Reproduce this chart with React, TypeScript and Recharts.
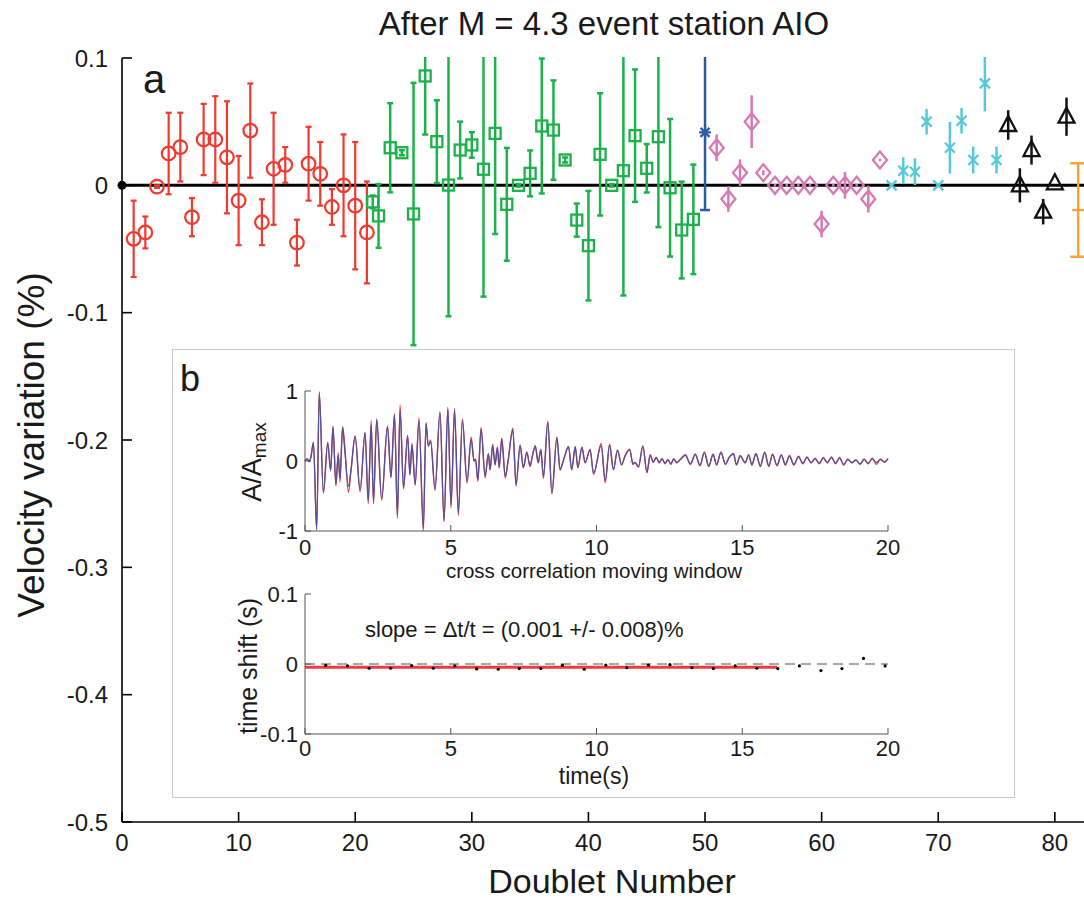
import React from 'react';
import {
  ComposedChart, Scatter, XAxis, YAxis, ErrorBar, ReferenceLine, ReferenceDot, Line,
} from 'recharts';

const FONT = '"Liberation Sans", Arial, Helvetica, sans-serif';

// ---------- Panel a ----------
const xTicks = [0, 10, 20, 30, 40, 50, 60, 70, 80];
const yTicks = [-0.5, -0.4, -0.3, -0.2, -0.1, 0, 0.1];

const redDoublets = [1, 2, 3, 4, 5, 6, 7, 8, 9, 10, 11, 12, 13, 14, 15, 16, 17, 18, 19, 20, 21];
const redValues = [-0.042, -0.037, -0.001, 0.025, 0.030, -0.025, 0.036, 0.036, 0.022, -0.012, 0.043, -0.029, 0.013, 0.016, -0.045, 0.017, 0.009, -0.017, 0.000, -0.016, -0.037];
const redErrors = [0.030, 0.0125, 0.001, 0.032, 0.027, 0.015, 0.028, 0.034, 0.044, 0.035, 0.037, 0.018, 0.044, 0.014, 0.018, 0.029, 0.025, 0.014, 0.040, 0.050, 0.040];

const greenDoublets = [21.5, 22, 23, 24, 25, 26, 27, 28, 29, 30, 31, 32, 33, 34, 35, 36, 37, 38, 39, 40, 41, 42, 43, 44, 45, 46, 47, 48, 49];
const greenValues = [-0.013, -0.024, 0.0295, 0.0256, -0.0225, 0.0859, 0.0343, 0.0002, 0.0277, 0.0317, 0.0126, 0.0408, -0.0149, 0.000, 0.0094, 0.0466, 0.0434, 0.0199, -0.0273, -0.0474, 0.0243, 0.000, 0.0115, 0.039, 0.0134, 0.0382, -0.0019, -0.0351, -0.0267];
const greenErrors = [0.005, 0.025, 0.035, 0.002, 0.103, 0.046, 0.0325, 0.103, 0.0223, 0.010, 0.100, 0.079, 0.0443, 0.001, 0.018, 0.053, 0.039, 0.002, 0.013, 0.043, 0.048, 0.001, 0.098, 0.052, 0.019, 0.071, 0.054, 0.038, 0.043];

const blueDoublets = [50];
const blueValues = [0.0416];
const blueErrors = [0.061];

const pinkDoublets = [51, 52, 53, 54, 55, 56, 57, 58, 59, 60, 61, 62, 63, 64, 65];
const pinkValues = [0.0295, -0.0108, 0.0099, 0.050, 0.0099, 0, 0, 0, 0, -0.0304, 0, 0, 0, -0.0108, 0.0199];
const pinkErrors = [0.0105, 0.010, 0.0105, 0.0207, 0.002, 0.001, 0.001, 0.001, 0.001, 0.0105, 0.001, 0.0105, 0.001, 0.0105, 0.001];

const cyanDoublets = [66, 67, 68, 69, 70, 71, 72, 73, 74, 75];
const cyanValues = [0, 0.0115, 0.0107, 0.050, 0, 0.0295, 0.0507, 0.0199, 0.0801, 0.0199];
const cyanErrors = [0, 0.0105, 0.0105, 0.010, 0, 0.0203, 0.010, 0.0105, 0.022, 0.0105];

const blackDoublets = [76, 77, 78, 79, 80, 81];
const blackValues = [0.0474, 0, 0.0277, -0.0207, 0.0016, 0.0539];
const blackErrors = [0.0116, 0.0134, 0.0114, 0.010, 0, 0.015];

const orangeDoublets = [82];
const orangeValues = [-0.0194];
const orangeErrors = [0.0367];

// ---------- Panel b (waveforms) ----------
const waveTimes = [0, 0.08, 0.14, 0.20, 0.29, 0.40, 0.49, 0.63, 0.78, 0.88, 0.96, 1.06, 1.14, 1.20, 1.29, 1.36, 1.49, 1.58, 1.72, 1.89, 2.06, 2.17, 2.27, 2.35, 2.46, 2.63, 2.83, 2.95, 3.07, 3.17, 3.26, 3.38, 3.52, 3.60, 3.67, 3.78, 3.91, 4.06, 4.15, 4.23, 4.31, 4.46, 4.63, 4.77, 4.90, 5.01, 5.13, 5.26, 5.40, 5.56, 5.70, 5.80, 5.85, 5.93, 6.04, 6.18, 6.29, 6.35, 6.44, 6.52, 6.60, 6.66, 6.75, 6.87, 6.96, 7.13, 7.24, 7.38, 7.49, 7.61, 7.72, 7.80, 7.90, 8.00, 8.09, 8.18, 8.33, 8.47, 8.64, 8.75, 8.86, 9.04, 9.15, 9.27, 9.36, 9.50, 9.61, 9.78, 9.90, 10.16, 10.30, 10.45, 10.58, 10.72, 10.86, 10.98, 11.14, 11.25, 11.32, 11.44, 11.59, 11.73, 11.84, 11.95, 12.05, 12.15, 12.25, 12.35, 12.45, 12.55, 12.65, 12.75, 12.85, 13.05, 13.22, 13.39, 13.55, 13.70, 13.85, 14.00, 14.12, 14.27, 14.42, 14.55, 14.70, 14.80, 14.93, 15.10, 15.22, 15.33, 15.47, 15.62, 15.77, 15.91, 16.04, 16.19, 16.34, 16.48, 16.62, 16.77, 16.93, 17.08, 17.22, 17.36, 17.50, 17.64, 17.78, 17.92, 18.06, 18.20, 18.34, 18.48, 18.62, 18.76, 18.90, 19.04, 19.18, 19.32, 19.46, 19.60, 19.74, 19.88, 20.00];
const waveBlue = [0.00, 0.03, -0.01, 0.05, 0.26, -0.98, 0.97, -0.45, 0.26, -0.13, 0.48, -0.33, 0.08, -0.25, 0.48, 0.18, -0.36, -0.12, 0.35, -0.42, 0.40, -0.57, 0.52, -0.57, 0.59, -0.54, 0.49, -0.23, 0.66, -0.78, 0.72, -0.38, 0.35, -0.19, 0.23, -0.33, 0.58, -0.96, 0.53, 0.21, 0.28, -0.40, 0.69, -0.85, 0.74, -0.63, 0.72, -0.73, 0.58, -0.29, 0.31, 0.00, 0.02, -0.27, 0.45, -0.21, 0.10, -0.12, 0.22, -0.05, 0.19, -0.09, 0.31, -0.22, -0.02, 0.44, -0.33, 0.22, -0.09, 0.12, -0.07, 0.07, 0.21, -0.02, 0.16, -0.22, 0.55, -0.46, 0.33, -0.12, 0.00, 0.20, -0.12, 0.20, -0.09, 0.19, -0.02, 0.16, -0.18, 0.22, -0.28, 0.23, -0.12, 0.15, -0.05, 0.07, 0.16, -0.04, -0.02, -0.08, 0.21, -0.16, 0.08, -0.01, 0.05, -0.02, 0.03, -0.03, 0.02, -0.04, 0.03, -0.02, 0.01, 0.08, -0.04, 0.09, -0.06, 0.12, -0.07, 0.09, -0.05, 0.12, -0.04, 0.05, 0.10, -0.05, 0.07, -0.02, 0.08, -0.05, 0.10, -0.07, 0.12, -0.07, 0.09, -0.06, 0.08, -0.05, 0.07, -0.05, 0.06, -0.03, 0.05, -0.02, 0.03, -0.03, 0.04, -0.02, 0.05, -0.03, 0.04, -0.05, 0.02, -0.02, 0.01, -0.04, 0.02, -0.03, 0.03, -0.02, 0.02, -0.01, 0.03];
const waveRed = [0.00, 0.03, -0.01, 0.05, 0.27, -0.98, 0.99, -0.46, 0.27, -0.14, 0.50, -0.36, 0.12, -0.30, 0.49, 0.23, -0.45, -0.13, 0.36, -0.44, 0.41, -0.61, 0.58, -0.61, 0.60, -0.56, 0.50, -0.24, 0.68, -0.82, 0.80, -0.40, 0.37, -0.20, 0.25, -0.35, 0.62, -1.00, 0.55, 0.22, 0.30, -0.42, 0.70, -0.87, 0.77, -0.67, 0.75, -0.78, 0.60, -0.32, 0.34, 0.00, 0.03, -0.29, 0.48, -0.24, 0.11, -0.13, 0.24, -0.06, 0.20, -0.10, 0.33, -0.24, -0.02, 0.47, -0.36, 0.23, -0.10, 0.13, -0.08, 0.07, 0.22, -0.03, 0.17, -0.25, 0.57, -0.47, 0.34, -0.13, 0.00, 0.21, -0.13, 0.21, -0.10, 0.20, -0.03, 0.17, -0.19, 0.25, -0.31, 0.24, -0.13, 0.16, -0.06, 0.08, 0.17, -0.05, -0.02, -0.09, 0.22, -0.17, 0.09, -0.02, 0.05, -0.03, 0.03, -0.04, 0.02, -0.05, 0.03, -0.03, 0.01, 0.09, -0.05, 0.10, -0.07, 0.13, -0.08, 0.10, -0.06, 0.13, -0.05, 0.05, 0.11, -0.06, 0.08, -0.03, 0.09, -0.06, 0.11, -0.08, 0.13, -0.08, 0.10, -0.07, 0.09, -0.06, 0.08, -0.06, 0.07, -0.04, 0.06, -0.03, 0.04, -0.04, 0.05, -0.03, 0.06, -0.04, 0.05, -0.06, 0.03, -0.03, 0.02, -0.05, 0.03, -0.04, 0.04, -0.05, 0.03, -0.02, 0.04];
const waveTicksX = [0, 5, 10, 15, 20];
const waveTicksY = [-1, 0, 1];

// ---------- Panel b (time shift) ----------
const shiftTimes = [0.71, 1.46, 2.20, 2.94, 3.66, 4.40, 5.14, 5.89, 6.63, 7.35, 8.09, 8.83, 9.58, 10.32, 11.04, 11.78, 12.52, 13.27, 14.01, 14.76, 15.50, 16.22, 16.96, 17.70, 18.42, 19.16, 19.90];
const shiftValues = [-0.0019, -0.0028, -0.0061, -0.0061, -0.0024, -0.0061, -0.0028, -0.0070, -0.0075, -0.0066, -0.0066, -0.0019, -0.0075, -0.0014, -0.0052, -0.0014, -0.0009, -0.0052, -0.0066, -0.0028, -0.0061, -0.0066, -0.0028, -0.0094, -0.0066, 0.0080, -0.0028];
const fitTimes = [0, 16.2];
const fitValues = [-0.0047, -0.0046];
const shiftTicksY = [-0.1, 0, 0.1];

// ---------- colours ----------
const RED = '#f0392f';
const GREEN = '#1cb24b';
const BLUE = '#2b5aa8';
const PINK = '#d879b4';
const CYAN = '#55c9d5';
const BLACK = '#111111';
const ORANGE = '#f7a43a';

const pts = (xs: number[], ys: number[], es: number[]) => xs.map((x, i) => ({ x, y: ys[i], e: es[i] }));
const redPts = pts(redDoublets, redValues, redErrors);
const greenPts = pts(greenDoublets, greenValues, greenErrors);
const bluePts = pts(blueDoublets, blueValues, blueErrors);
const pinkPts = pts(pinkDoublets, pinkValues, pinkErrors);
const cyanPts = pts(cyanDoublets, cyanValues, cyanErrors);
const blackPts = pts(blackDoublets, blackValues, blackErrors);
const orangePts = pts(orangeDoublets, orangeValues, orangeErrors);

const waveData = waveTimes.map((t, i) => ({ t, bl: waveBlue[i], rd: waveRed[i] }));
const shiftPts = shiftTimes.map((t, i) => ({ t, s: shiftValues[i] }));
const fitPts = fitTimes.map((t, i) => ({ t, s: fitValues[i] }));

// ---------- marker shapes ----------
const CircleShape = (p: any) => <circle cx={p.cx} cy={p.cy} r={6.8} fill="none" stroke={RED} strokeWidth={2.2} />;
const SquareShape = (p: any) => <rect x={p.cx - 5.5} y={p.cy - 5.5} width={11} height={11} fill="none" stroke={GREEN} strokeWidth={2.3} />;
const StarShape = (p: any) => (
  <g stroke={BLUE} strokeWidth={2.2}>
    <line x1={p.cx - 6} y1={p.cy} x2={p.cx + 6} y2={p.cy} />
    <line x1={p.cx} y1={p.cy - 6} x2={p.cx} y2={p.cy + 6} />
    <line x1={p.cx - 4.5} y1={p.cy - 4.5} x2={p.cx + 4.5} y2={p.cy + 4.5} />
    <line x1={p.cx - 4.5} y1={p.cy + 4.5} x2={p.cx + 4.5} y2={p.cy - 4.5} />
  </g>
);
const DiamondShape = (p: any) => (
  <path d={`M${p.cx},${p.cy - 8.5} L${p.cx + 7},${p.cy} L${p.cx},${p.cy + 8.5} L${p.cx - 7},${p.cy} Z`} fill="none" stroke={PINK} strokeWidth={2.3} />
);
const XShape = (p: any) => (
  <g stroke={CYAN} strokeWidth={2.3}>
    <line x1={p.cx - 5} y1={p.cy - 5} x2={p.cx + 5} y2={p.cy + 5} />
    <line x1={p.cx - 5} y1={p.cy + 5} x2={p.cx + 5} y2={p.cy - 5} />
  </g>
);
const TriangleShape = (p: any) => (
  <path d={`M${p.cx},${p.cy - 9} L${p.cx + 8},${p.cy + 6} L${p.cx - 8},${p.cy + 6} Z`} fill="none" stroke={BLACK} strokeWidth={2.3} />
);
const TickShape = (p: any) => <line x1={p.cx - 6} y1={p.cy} x2={p.cx + 6} y2={p.cy} stroke={ORANGE} strokeWidth={2.3} />;
const DotShape = (p: any) => <circle cx={p.cx} cy={p.cy} r={1.6} fill="#000" />;

const NoTick = () => <g />;
const tickStyle = { fill: '#1a1a1a', fontSize: 24, fontFamily: FONT };
const insetTick = { fill: '#1a1a1a', fontSize: 22, fontFamily: FONT };

export default function App() {
  return (
    <div style={{ position: 'absolute', left: 0, top: 0, width: 1084, height: 901, background: '#fff', overflow: 'hidden', fontFamily: FONT }}>
      {/* main panel a */}
      <div style={{ position: 'absolute', left: 0, top: 0 }}>
        <ComposedChart width={1084} height={901} margin={{ top: 58, right: 0, bottom: 0, left: 62 }}>
          <XAxis xAxisId="b" dataKey="x" type="number" domain={[0, 82.5]} ticks={xTicks} allowDataOverflow interval={0}
            height={79} tickSize={-10} tickMargin={22} stroke="#000" strokeWidth={1.6} tick={tickStyle} />
          <YAxis dataKey="y" type="number" domain={[-0.5, 0.1]} ticks={yTicks} allowDataOverflow interval={0}
            width={60} tickSize={-10} tickMargin={24} stroke="#000" strokeWidth={1.6} tick={tickStyle} />
          <ReferenceLine xAxisId="b" y={0} stroke="#000" strokeWidth={3} />
          <Scatter xAxisId="b" data={redPts} shape={CircleShape} isAnimationActive={false}>
            <ErrorBar dataKey="e" direction="y" width={3} stroke={RED} strokeWidth={2.2} isAnimationActive={false} />
          </Scatter>
          <Scatter xAxisId="b" data={greenPts} shape={SquareShape} isAnimationActive={false}>
            <ErrorBar dataKey="e" direction="y" width={3} stroke={GREEN} strokeWidth={2.5} isAnimationActive={false} />
          </Scatter>
          <Scatter xAxisId="b" data={bluePts} shape={StarShape} isAnimationActive={false}>
            <ErrorBar dataKey="e" direction="y" width={5} stroke={BLUE} strokeWidth={2.5} isAnimationActive={false} />
          </Scatter>
          <Scatter xAxisId="b" data={pinkPts} shape={DiamondShape} isAnimationActive={false}>
            <ErrorBar dataKey="e" direction="y" width={0} stroke={PINK} strokeWidth={2.5} isAnimationActive={false} />
          </Scatter>
          <Scatter xAxisId="b" data={cyanPts} shape={XShape} isAnimationActive={false}>
            <ErrorBar dataKey="e" direction="y" width={0} stroke={CYAN} strokeWidth={2.5} isAnimationActive={false} />
          </Scatter>
          <Scatter xAxisId="b" data={blackPts} shape={TriangleShape} isAnimationActive={false}>
            <ErrorBar dataKey="e" direction="y" width={0} stroke={BLACK} strokeWidth={2.5} isAnimationActive={false} />
          </Scatter>
          <Scatter xAxisId="b" data={orangePts} shape={TickShape} isAnimationActive={false}>
            <ErrorBar dataKey="e" direction="y" width={8} stroke={ORANGE} strokeWidth={2.5} isAnimationActive={false} />
          </Scatter>
          <ReferenceDot xAxisId="b" x={0} y={0} r={4.5} fill="#000" stroke="none" ifOverflow="visible" />
        </ComposedChart>
      </div>

      {/* mask for error bars running past the top frame (plot columns only), then the top frame axis */}
      <div style={{ position: 'absolute', left: 124, top: 0, width: 960, height: 57, background: '#fff' }} />
      <div style={{ position: 'absolute', left: 0, top: 0 }}>
        <ComposedChart width={1084} height={901} margin={{ top: 58, right: 0, bottom: 0, left: 62 }}>
          <XAxis xAxisId="t" orientation="top" dataKey="x" type="number" domain={[0, 82.5]} ticks={xTicks} allowDataOverflow interval={0}
            height={0} tickSize={-10} stroke="#000" strokeWidth={1.6} tick={NoTick} />
          <XAxis xAxisId="b" dataKey="x" type="number" domain={[0, 82.5]} ticks={xTicks} height={79} hide />
          <YAxis dataKey="y" type="number" domain={[-0.5, 0.1]} ticks={yTicks} width={60} hide />
          <Scatter xAxisId="t" data={[]} isAnimationActive={false} />
        </ComposedChart>
      </div>

      {/* inset frame */}
      <div style={{ position: 'absolute', left: 172, top: 349, width: 843, height: 449, boxSizing: 'border-box', border: '1.5px solid #cbcbcb', background: '#fff' }} />

      {/* inset: waveform */}
      <div style={{ position: 'absolute', left: 172, top: 349 }}>
        <ComposedChart width={843} height={232} data={waveData} margin={{ top: 42, right: 127, bottom: 0, left: 73 }}>
          <XAxis xAxisId="b" dataKey="t" type="number" domain={[0, 20]} ticks={waveTicksX} interval={0}
            height={50} tickSize={-6} tickMargin={14} stroke="#555" tick={insetTick} />
          <XAxis xAxisId="t" orientation="top" dataKey="t" type="number" domain={[0, 20]} ticks={waveTicksX} interval={0}
            height={0} tickSize={-6} stroke="#555" tick={NoTick} />
          <YAxis yAxisId="l" type="number" domain={[-1, 1]} ticks={waveTicksY} interval={0} allowDataOverflow
            width={60} tickSize={-6} tickMargin={13} stroke="#555" tick={insetTick} />
          <YAxis yAxisId="r" orientation="right" type="number" domain={[-1, 1]} ticks={waveTicksY} interval={0} allowDataOverflow
            width={0} tickSize={-6} stroke="#555" tick={NoTick} />
          <Line xAxisId="b" yAxisId="l" dataKey="rd" type="monotone" stroke="#ec3a3c" strokeWidth={1.3} dot={false} isAnimationActive={false} />
          <Line xAxisId="b" yAxisId="l" dataKey="bl" type="monotone" stroke="#4f519c" strokeWidth={1.3} dot={false} isAnimationActive={false} />
        </ComposedChart>
      </div>

      {/* inset: time shift */}
      <div style={{ position: 'absolute', left: 172, top: 580 }}>
        <ComposedChart width={843} height={210} margin={{ top: 14, right: 127, bottom: 0, left: 73 }}>
          <XAxis xAxisId="b" dataKey="t" type="number" domain={[0, 20]} ticks={waveTicksX} interval={0}
            height={56} tickSize={-6} tickMargin={12} stroke="#555" tick={insetTick} />
          <XAxis xAxisId="t" orientation="top" dataKey="t" type="number" domain={[0, 20]} ticks={waveTicksX} interval={0}
            height={0} tickSize={-6} stroke="#555" tick={NoTick} />
          <YAxis yAxisId="l" dataKey="s" type="number" domain={[-0.1, 0.1]} ticks={shiftTicksY} interval={0} allowDataOverflow
            width={60} tickSize={-6} tickMargin={13} stroke="#555" tick={insetTick} />
          <YAxis yAxisId="r" orientation="right" dataKey="s" type="number" domain={[-0.1, 0.1]} ticks={shiftTicksY} interval={0} allowDataOverflow
            width={0} tickSize={-6} stroke="#555" tick={NoTick} />
          <ReferenceLine xAxisId="b" yAxisId="l" y={0} stroke="#8a8a8a" strokeWidth={1.5} strokeDasharray="10 6" />
          <Line xAxisId="b" yAxisId="l" data={fitPts} dataKey="s" type="linear" stroke="#ee3b3b" strokeWidth={3} dot={false} isAnimationActive={false} />
          <Scatter xAxisId="b" yAxisId="l" data={shiftPts} dataKey="s" shape={DotShape} isAnimationActive={false} />
        </ComposedChart>
      </div>

      {/* text overlay */}
      <svg width={1084} height={901} style={{ position: 'absolute', left: 0, top: 0, pointerEvents: 'none' }} fontFamily={FONT} fill="#1a1a1a">
        <text x={604} y={35} fontSize={33} textAnchor="middle">After M = 4.3 event station AIO</text>
        <text x={143} y={93} fontSize={40}>a</text>
        <text x={612} y={893} fontSize={34} textAnchor="middle">Doublet Number</text>
        <text transform="translate(31,445) rotate(-90)" fontSize={37} textAnchor="middle" dominantBaseline="central">Velocity variation (%)</text>
        <text x={180} y={391} fontSize={36}>b</text>
        <text transform="translate(252,462) rotate(-90)" fontSize={27} textAnchor="middle" dominantBaseline="central">
          A/A<tspan fontSize={19} dy={7}>max</tspan>
        </text>
        <text x={594} y={578} fontSize={20.5} textAnchor="middle">cross correlation moving window</text>
        <text transform="translate(248,666) rotate(-90)" fontSize={25} textAnchor="middle" dominantBaseline="central">time shift (s)</text>
        <text x={594} y={784} fontSize={23} textAnchor="middle">time(s)</text>
        <text x={365} y={637} fontSize={22}>slope = Δt/t = (0.001 +/- 0.008)%</text>
      </svg>
    </div>
  );
}
